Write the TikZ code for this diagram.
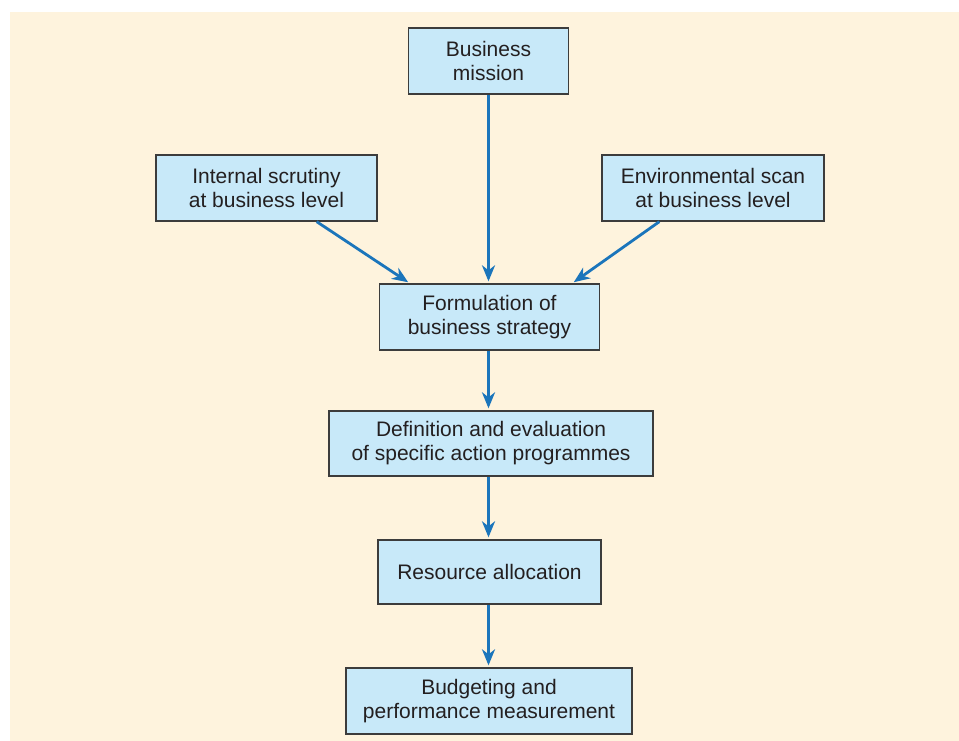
\documentclass[tikz,border=0pt]{standalone}
\usepackage{fontspec}
\setmainfont{Liberation Sans}
\usetikzlibrary{arrows.meta,calc}
\definecolor{pagebg}{HTML}{FEF3DD}
\definecolor{boxfill}{HTML}{C8E9F9}
\definecolor{boxline}{HTML}{3C3C3C}
\definecolor{flow}{HTML}{1B75BB}
\definecolor{ink}{HTML}{231F20}

\begin{document}
\begin{tikzpicture}[x=1pt,y=-1pt,
  stagebox/.style={draw=boxline, fill=boxfill, line width=1.3pt, text=ink,
    align=center, inner sep=0pt, font=\fontsize{21}{24}\selectfont},
  flowarrow/.style={draw=flow, line width=2.8pt,
    -{Stealth[length=16pt,width=13pt,inset=5pt]}, shorten >=2pt}]

  % page and panel
  \useasboundingbox (0,0) rectangle (959,741);
  \fill[pagebg] (10,12) rectangle (959,741);

  % stages of the planning process
  \node[stagebox, minimum width=160pt, minimum height=66pt] (mission) at (488.5,61)
    {Business\\mission};
  \node[stagebox, minimum width=221pt, minimum height=66pt] (internal) at (266.5,188)
    {Internal scrutiny\\at business level};
  \node[stagebox, minimum width=222pt, minimum height=66pt] (environ) at (713,188)
    {Environmental scan\\at business level};
  \node[stagebox, minimum width=220pt, minimum height=66pt] (strategy) at (489.5,317)
    {Formulation of\\business strategy};
  \node[stagebox, minimum width=324pt, minimum height=65pt] (programmes) at (491,443.5)
    {Definition and evaluation\\of specific action programmes};
  \node[stagebox, minimum width=223pt, minimum height=64pt] (resources) at (489.5,572)
    {Resource allocation};
  \node[stagebox, minimum width=286pt, minimum height=66pt] (budget) at (489,701)
    {Budgeting and\\performance measurement};

  % anchor points for the slanted inputs
  \coordinate (intout) at ([xshift=-61pt]internal.south east);
  \coordinate (envout) at ([xshift=58pt]environ.south west);
  \coordinate (intin) at ([xshift=31pt]strategy.north west);
  \coordinate (envin) at ([xshift=-28pt]strategy.north east);

  % connectors
  \draw[flowarrow] (mission.south) -- (mission.south |- strategy.north);
  \draw[flowarrow] (intout) -- (intin);
  \draw[flowarrow] (envout) -- (envin);
  \draw[flowarrow] (mission.south |- strategy.south) -- (mission.south |- programmes.north);
  \draw[flowarrow] (mission.south |- programmes.south) -- (mission.south |- resources.north);
  \draw[flowarrow] (mission.south |- resources.south) -- (mission.south |- budget.north);
\end{tikzpicture}
\end{document}
